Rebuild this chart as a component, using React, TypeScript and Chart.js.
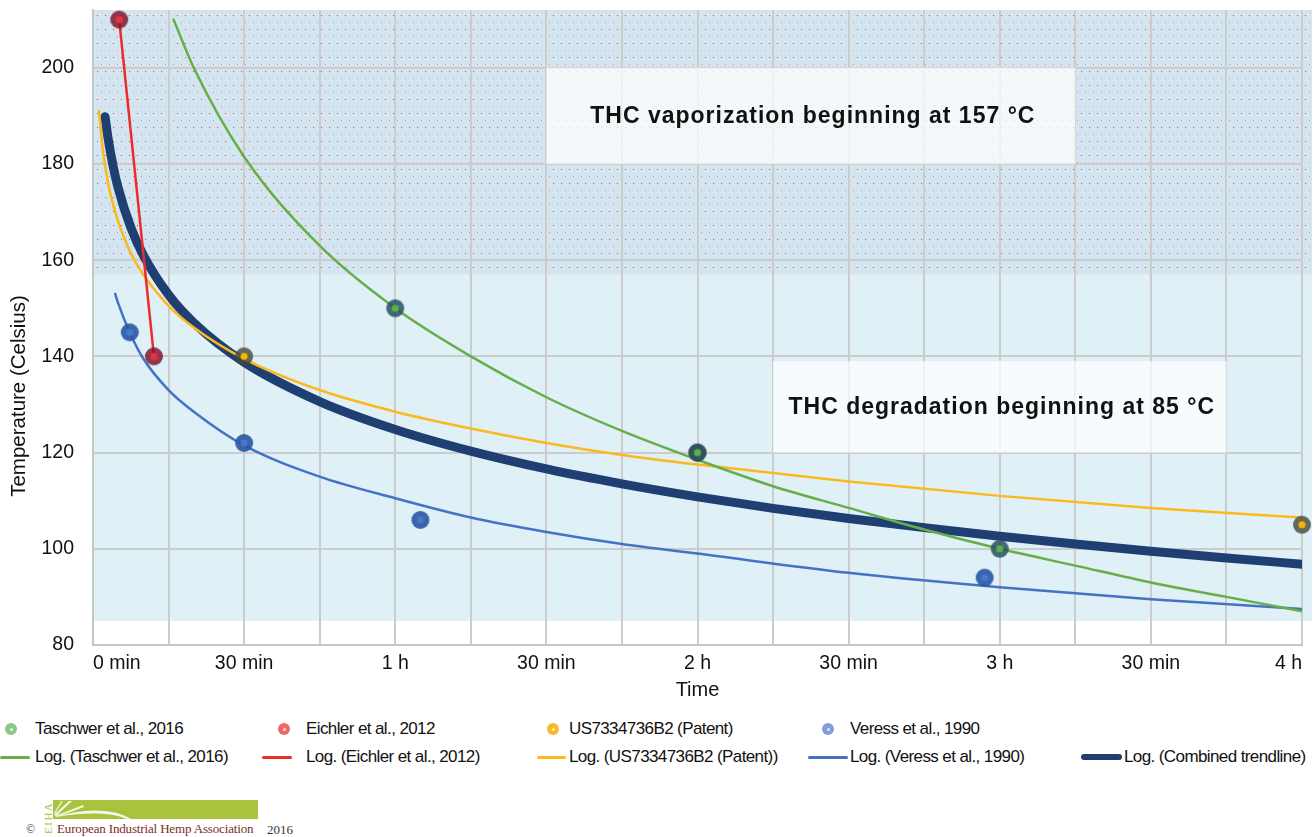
import { useEffect, useRef } from "react";
import Chart from "chart.js/auto";

const FONT = "'Liberation Sans', Arial, Helvetica, sans-serif";
const SERIF = "'Liberation Serif', 'Times New Roman', serif";

// measured values (time in minutes, temperature in °C)
const taschwerTime = [60, 120, 180];
const taschwerTemp = [150, 120, 100];
const eichlerTime = [5.2, 12.1];
const eichlerTemp = [210, 140];
const patentTime = [30, 120, 240];
const patentTemp = [140, 120, 105];
const veressTime = [7.3, 30, 65, 177];
const veressTemp = [145, 122, 106, 94];

// log trendlines
const taschwerLogTime = [16, 20, 30, 45, 60, 75, 90, 105, 120, 135, 150, 165, 180, 195, 210, 225, 240];
const taschwerLogTemp = [210, 200, 181.5, 163, 150, 140, 131.5, 124.5, 118.5, 113, 108.5, 104, 100, 96.5, 93, 90, 87];
const eichlerLogTime = [5.2, 12.1];
const eichlerLogTemp = [210, 140];
const patentLogTime = [1.2, 2, 3, 5, 7.5, 10, 15, 20, 30, 45, 60, 75, 90, 105, 120, 150, 180, 210, 240];
const patentLogTemp = [191, 182.5, 176, 168, 161.5, 157, 150.5, 146, 139.5, 133, 128.5, 125, 122, 119.5, 117.5, 114, 111, 108.5, 106.5];
const veressLogTime = [4.4, 5, 7.5, 10, 15, 20, 30, 45, 60, 75, 90, 105, 120, 150, 180, 210, 240];
const veressLogTemp = [153, 151, 144.5, 139.5, 133, 128.5, 121.5, 115, 110.5, 106.5, 103.5, 101, 99, 95, 92, 89.5, 87.5];
const combinedTime = [2.4, 3, 4, 5, 7.5, 10, 15, 20, 30, 45, 60, 75, 90, 105, 120, 135, 150, 165, 180, 195, 210, 225, 240];
const combinedTemp = [189.8, 185.3, 179.5, 175, 166.8, 161, 152.8, 147, 138.8, 130.6, 124.8, 120.3, 116.6, 113.5, 110.8, 108.4, 106.3, 104.4, 102.6, 101, 99.5, 98.1, 96.8];

const xTickValues = [0, 30, 60, 90, 120, 150, 180, 210, 240];
const xTickLabels = ["0 min", "30 min", "1 h", "30 min", "2 h", "30 min", "3 h", "30 min", "4 h"];

const pointNames = ["Taschwer et al., 2016", "Eichler et al., 2012", "US7334736B2 (Patent)", "Veress et al., 1990"];
const lineNames = [
  "Log. (Taschwer et al., 2016)",
  "Log. (Eichler et al., 2012)",
  "Log. (US7334736B2 (Patent))",
  "Log. (Veress et al., 1990)",
  "Log. (Combined trendline)",
];

const vaporTemp = 157;
const degradeTemp = 85;

const notes = [
  { text: "THC vaporization beginning at 157 °C", x0: 90, x1: 195, y0: 180, y1: 200 },
  { text: "THC degradation beginning at 85 °C", x0: 135, x1: 225, y0: 120, y1: 139 },
];

const lineColors = ["#67ae48", "#ee2b2b", "#fbb91c", "#4472c4", "#1f3f73"];
const markerOuter = ["rgba(40,80,95,0.85)", "rgba(130,25,45,0.85)", "rgba(70,70,55,0.8)", "rgba(40,85,165,0.9)"];
const markerInner = ["#5cb040", "#e8323c", "#f5b800", "#4a78c4"];
const legendDot = ["#8cc88c", "#ee6a6a", "#fbb827", "#7f9fdc"];

function zip(xs: number[], ys: number[]) {
  return xs.map((x, i) => ({ x, y: ys[i] }));
}

function makeMarker(outer: string, inner: string) {
  const c = document.createElement("canvas");
  c.width = 20;
  c.height = 20;
  const ctx = c.getContext("2d")!;
  ctx.fillStyle = outer;
  ctx.beginPath();
  ctx.arc(10, 10, 9, 0, Math.PI * 2);
  ctx.fill();
  ctx.fillStyle = inner;
  ctx.beginPath();
  ctx.arc(10, 10, 3.5, 0, Math.PI * 2);
  ctx.fill();
  return c;
}

function makeDots(ctx: CanvasRenderingContext2D) {
  const c = document.createElement("canvas");
  c.width = 8;
  c.height = 14;
  const p = c.getContext("2d")!;
  p.fillStyle = "#d3e5f1";
  p.fillRect(0, 0, 8, 14);
  p.fillStyle = "rgba(235,45,45,0.9)";
  p.fillRect(1, 1, 1, 1);
  p.fillStyle = "rgba(235,100,115,0.7)";
  p.fillRect(5, 8, 1, 1);
  return ctx.createPattern(c, "repeat")!;
}

const bandsPlugin = {
  id: "bands",
  beforeDraw(chart: any) {
    const { ctx, chartArea, scales } = chart;
    const y = scales.y;
    const right = chartArea.right + 10;
    const yVap = y.getPixelForValue(vaporTemp);
    const yDeg = y.getPixelForValue(degradeTemp);
    ctx.save();
    ctx.fillStyle = "#dff0f7";
    ctx.fillRect(chartArea.left, yVap, right - chartArea.left, yDeg - yVap);
    ctx.fillStyle = makeDots(ctx);
    ctx.fillRect(chartArea.left, chartArea.top, right - chartArea.left, yVap - chartArea.top);
    ctx.restore();
  },
};

const notesPlugin = {
  id: "notes",
  beforeDatasetsDraw(chart: any) {
    const { ctx, scales } = chart;
    ctx.save();
    for (const n of notes) {
      const l = scales.x.getPixelForValue(n.x0);
      const r = scales.x.getPixelForValue(n.x1);
      const t = scales.y.getPixelForValue(n.y1);
      const b = scales.y.getPixelForValue(n.y0);
      ctx.fillStyle = "rgba(255,255,255,0.72)";
      ctx.fillRect(l, t, r - l, b - t);
      ctx.fillStyle = "#111";
      ctx.font = "bold 23px " + FONT;
      (ctx as any).letterSpacing = "1px";
      ctx.textAlign = "center";
      ctx.textBaseline = "middle";
      ctx.fillText(n.text, (l + r) / 2 + 2, (t + b) / 2 + 1);
    }
    ctx.restore();
  },
};

// y axis title sits a little below the middle of the plot, as in the original
const yTitlePlugin = {
  id: "yTitle",
  afterDraw(chart: any) {
    const { ctx } = chart;
    ctx.save();
    ctx.translate(19, 396);
    ctx.rotate(-Math.PI / 2);
    ctx.fillStyle = "#111";
    ctx.font = "20.5px " + FONT;
    ctx.textAlign = "center";
    ctx.textBaseline = "middle";
    ctx.fillText("Temperature (Celsius)", 0, 0);
    ctx.restore();
  },
};

function TempChart() {
  const canvasRef = useRef<HTMLCanvasElement>(null);
  const chartRef = useRef<Chart | null>(null);

  useEffect(() => {
    if (!canvasRef.current) return;
    if (chartRef.current) chartRef.current.destroy();

    const pointSets = [
      zip(taschwerTime, taschwerTemp),
      zip(eichlerTime, eichlerTemp),
      zip(patentTime, patentTemp),
      zip(veressTime, veressTemp),
    ];
    const lineSets = [
      zip(taschwerLogTime, taschwerLogTemp),
      zip(eichlerLogTime, eichlerLogTemp),
      zip(patentLogTime, patentLogTemp),
      zip(veressLogTime, veressLogTemp),
      zip(combinedTime, combinedTemp),
    ];

    const datasets: any[] = [];
    lineSets.forEach((d, i) => {
      const last = i === 4;
      datasets.push({
        type: "line",
        label: lineNames[i],
        data: d,
        borderColor: lineColors[i],
        borderWidth: last ? 9 : 2.5,
        pointRadius: 0,
        tension: 0.4,
        cubicInterpolationMode: "monotone",
        borderCapStyle: "round",
        fill: false,
        order: last ? 10 : 5,
      });
    });
    pointSets.forEach((d, i) => {
      datasets.push({
        type: "scatter",
        label: pointNames[i],
        data: d,
        pointStyle: makeMarker(markerOuter[i], markerInner[i]),
        pointRadius: 9,
        showLine: false,
        clip: false,
        order: 1,
      });
    });

    chartRef.current = new Chart(canvasRef.current, {
      type: "scatter",
      data: { datasets },
      plugins: [bandsPlugin, notesPlugin, yTitlePlugin],
      options: {
        animation: false,
        responsive: true,
        maintainAspectRatio: false,
        layout: { padding: { top: 10, right: 13, left: 0, bottom: 0 } },
        plugins: {
          legend: { display: false },
          tooltip: { enabled: false },
        },
        scales: {
          x: {
            type: "linear",
            min: 0,
            max: 240,
            afterFit: (s: any) => {
              s.height = 60;
              s.paddingLeft = 0;
              s.paddingRight = 0;
            },
            ticks: {
              stepSize: 15,
              autoSkip: false,
              maxRotation: 0,
              align: "inner",
              padding: 7,
              color: "#111",
              font: { family: FONT, size: 19.5 },
              callback: (v: any) => {
                const i = xTickValues.indexOf(Number(v));
                return i >= 0 ? xTickLabels[i] : "";
              },
            },
            grid: { color: "#cccccc", lineWidth: 2, drawTicks: false },
            border: { color: "#c6c6c6", width: 2 },
            title: {
              display: true,
              text: "Time",
              color: "#111",
              font: { family: FONT, size: 20 },
              padding: { top: 0, bottom: 3 },
            },
          },
          y: {
            min: 80,
            max: 212,
            afterFit: (s: any) => {
              s.width = 93;
              s.paddingTop = 0;
              s.paddingBottom = 0;
            },
            afterBuildTicks: (s: any) => {
              s.ticks = s.ticks.filter((t: any) => t.value <= 200);
            },
            ticks: {
              stepSize: 20,
              padding: 19,
              color: "#111",
              font: { family: FONT, size: 19.5 },
            },
            grid: { color: "#cccccc", lineWidth: 2, drawTicks: false },
            border: { color: "#c6c6c6", width: 2 },
            title: { display: false },
          },
        },
      },
    });

    return () => {
      if (chartRef.current) {
        chartRef.current.destroy();
        chartRef.current = null;
      }
    };
  }, []);

  return (
    <div style={{ position: "absolute", left: 0, top: 0, width: 1315, height: 705 }}>
      <canvas ref={canvasRef} />
    </div>
  );
}

// legend columns: marker x, line span, text x
const legendCols = [
  { dot: 11, line: [0, 30], text: 35 },
  { dot: 284, line: [262, 292], text: 306 },
  { dot: 553, line: [537, 566], text: 569 },
  { dot: 828, line: [808, 848], text: 850 },
  { dot: 0, line: [1081, 1122], text: 1124 },
];

function Legend() {
  const textStyle = {
    position: "absolute" as const,
    fontFamily: FONT,
    fontSize: 17,
    letterSpacing: "-0.6px",
    color: "#111",
    whiteSpace: "nowrap" as const,
    lineHeight: "20px",
  };
  return (
    <>
      {pointNames.map((name, i) => (
        <div key={name}>
          <div
            style={{
              position: "absolute",
              left: legendCols[i].dot - 6,
              top: 723,
              width: 12,
              height: 12,
              borderRadius: 6,
              background: legendDot[i],
              display: "flex",
              alignItems: "center",
              justifyContent: "center",
            }}
          >
            <div style={{ width: 3, height: 3, borderRadius: 2, background: "rgba(255,255,255,0.8)" }} />
          </div>
          <div style={{ ...textStyle, left: legendCols[i].text, top: 719 }}>{name}</div>
        </div>
      ))}
      {lineNames.map((name, i) => {
        const col = legendCols[i];
        const h = i === 4 ? 6 : 3;
        return (
          <div key={name}>
            <div
              style={{
                position: "absolute",
                left: col.line[0],
                top: 757 - h / 2,
                width: col.line[1] - col.line[0],
                height: h,
                borderRadius: h / 2,
                background: lineColors[i],
              }}
            />
            <div style={{ ...textStyle, left: col.text, top: 747 }}>{name}</div>
          </div>
        );
      })}
    </>
  );
}

function Logo() {
  return (
    <>
      <div style={{ position: "absolute", left: 53, top: 800, width: 205, height: 19, background: "#a9c33e" }}>
        <svg width="205" height="19" style={{ position: "absolute", left: 0, top: 0 }}>
          <path d="M1 15 L16 1 L19 1 L3 16 Z" fill="#fff" opacity="0.9" />
          <path d="M2 16 L30 5 L31 7 L4 17 Z" fill="#fff" opacity="0.85" />
          <path d="M3 17 C 30 8, 60 8, 78 19 L 74 19 C 58 12, 30 12, 3 17 Z" fill="#fff" opacity="0.9" />
          <path d="M1 13 L8 1 L10 1 L2 14 Z" fill="#fff" opacity="0.7" />
        </svg>
      </div>
      <div
        style={{
          position: "absolute",
          left: 43,
          top: 834,
          transform: "rotate(-90deg)",
          transformOrigin: "left top",
          fontFamily: SERIF,
          fontSize: 11,
          color: "#a9c33e",
          letterSpacing: 1.5,
          lineHeight: "10px",
          whiteSpace: "nowrap",
        }}
      >
        EIHA
      </div>
      <div style={{ position: "absolute", left: 26, top: 822, fontFamily: SERIF, fontSize: 12, lineHeight: "14px", color: "#333" }}>©</div>
      <div
        style={{
          position: "absolute",
          left: 57,
          top: 821,
          fontFamily: SERIF,
          fontSize: 13,
          lineHeight: "16px",
          letterSpacing: "-0.15px",
          color: "#7b2b22",
          whiteSpace: "nowrap",
        }}
      >
        European Industrial Hemp Association
      </div>
      <div style={{ position: "absolute", left: 267, top: 822, fontFamily: SERIF, fontSize: 13, lineHeight: "15px", color: "#333" }}>2016</div>
    </>
  );
}

export default function App() {
  return (
    <div style={{ position: "absolute", left: 0, top: 0, width: 1315, height: 837, background: "#fff", overflow: "hidden" }}>
      <TempChart />
      <Legend />
      <Logo />
    </div>
  );
}
